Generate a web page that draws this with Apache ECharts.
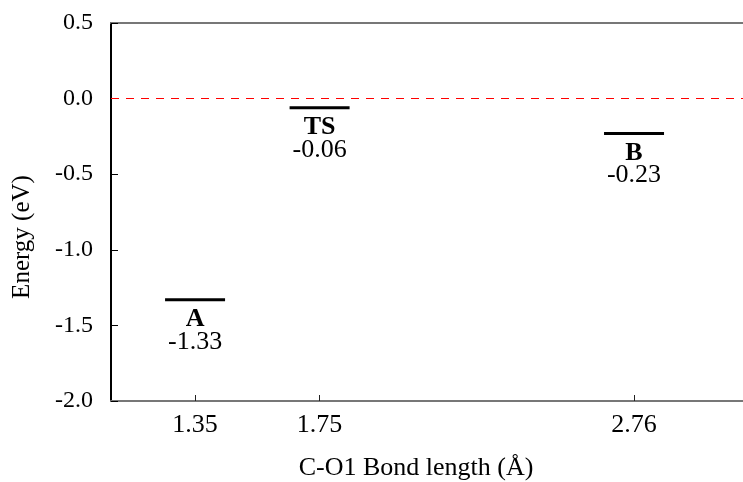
<!DOCTYPE html>
<html>
<head>
<meta charset="utf-8">
<script src="https://cdn.jsdelivr.net/npm/echarts@6/dist/echarts.min.js"></script>
<style>
  html, body { margin: 0; padding: 0; background: #fff; }
  #main { width: 743px; height: 482px; }
</style>
</head>
<body>
<div id="main"></div>
<script>
// states along the reaction path
let stateNames = ['A', 'TS', 'B'];
let bondLengths = [1.35, 1.75, 2.76];
let energies = [-1.33, -0.06, -0.23];

const serif = '"Liberation Serif", "Times New Roman", serif';

let plot = echarts.init(document.querySelector('#main'));

function drawLevel(params, api) {
    const p = api.coord([api.value(0), api.value(1)]);
    const i = params.dataIndex;
    return {
        type: 'group',
        children: [
            {
                type: 'line',
                shape: { x1: p[0] - 30, y1: p[1], x2: p[0] + 30, y2: p[1] },
                style: { stroke: '#000', lineWidth: 3 }
            },
            {
                type: 'text',
                style: {
                    text: stateNames[i], x: p[0], y: p[1] + 20,
                    align: 'center', verticalAlign: 'middle',
                    font: 'bold 26px ' + serif, fill: '#000'
                }
            },
            {
                type: 'text',
                style: {
                    text: energies[i].toFixed(2), x: p[0], y: p[1] + 42,
                    align: 'center', verticalAlign: 'middle',
                    font: '26px ' + serif, fill: '#000'
                }
            }
        ]
    };
}

const option = {
    animation: false,
    backgroundColor: '#fff',
    grid: { left: 111, right: 0, top: 23, bottom: 81 },
    xAxis: [{
        type: 'value',
        min: 1.08,
        max: 3.11,
        axisLine: { onZero: false, lineStyle: { color: '#777', width: 2 } },
        axisTick: { inside: true, length: 6, customValues: bondLengths, lineStyle: { color: '#222', width: 1 } },
        axisLabel: {
            customValues: bondLengths,
            margin: 11,
            color: '#000',
            fontFamily: serif,
            fontSize: 26,
            formatter: v => v.toFixed(2)
        },
        splitLine: { show: false }
    }, {
        type: 'value',
        position: 'top',
        min: 1.08,
        max: 3.11,
        axisLine: { show: true, onZero: false, lineStyle: { color: '#777', width: 2 } },
        axisTick: { show: false },
        axisLabel: { show: false },
        splitLine: { show: false }
    }],
    yAxis: {
        type: 'value',
        min: -2,
        max: 0.5,
        interval: 0.5,
        axisLine: { show: true, onZero: false, lineStyle: { color: '#000', width: 2 } },
        axisTick: { show: true, inside: true, length: 7, lineStyle: { color: '#000', width: 1 } },
        axisLabel: {
            margin: 18,
            color: '#000',
            fontFamily: serif,
            fontSize: 24,
            formatter: v => v.toFixed(1)
        },
        splitLine: { show: false }
    },
    graphic: [
        {
            type: 'text',
            x: 22, y: 237,
            rotation: Math.PI / 2,
            style: {
                text: 'Energy (eV)', align: 'center', verticalAlign: 'middle',
                font: '25px ' + serif, fill: '#000'
            }
        },
        {
            type: 'text',
            x: 416, y: 468,
            style: {
                text: 'C-O1 Bond length (Å)', align: 'center', verticalAlign: 'middle',
                font: '26px ' + serif, fill: '#000'
            }
        }
    ],
    series: [{
        type: 'custom',
        renderItem: drawLevel,
        data: bondLengths.map((x, i) => [x, energies[i]]),
        clip: false,
        markLine: {
            silent: true,
            symbol: 'none',
            label: { show: false },
            lineStyle: { color: '#ff0000', type: [8, 7], width: 1.2 },
            data: [{ yAxis: 0 }]
        }
    }]
};

plot.setOption(option);
</script>
</body>
</html>
